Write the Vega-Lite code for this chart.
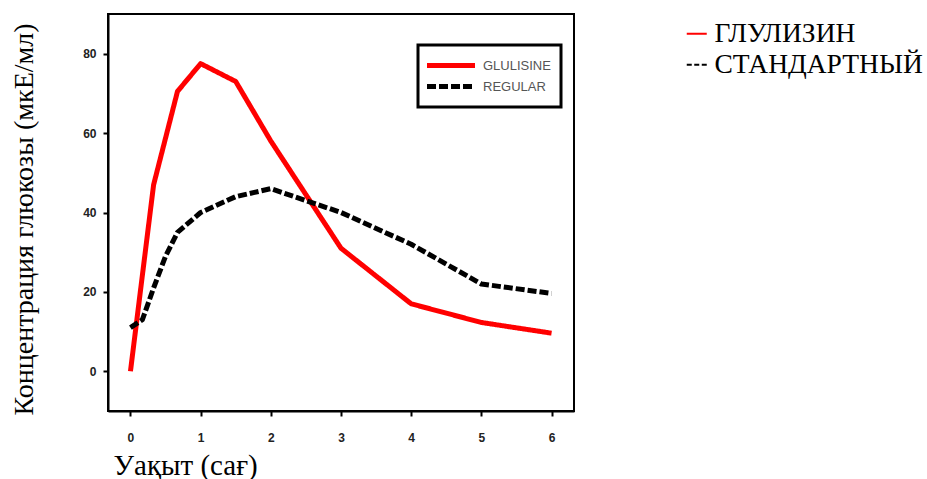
{
  "$schema": "https://vega.github.io/schema/vega-lite/v6.json",
  "autosize": "none",
  "width": 466,
  "height": 397,
  "padding": {"left": 108, "top": 14, "right": 353, "bottom": 68},
  "background": "white",
  "config": {
    "view": {"stroke": "black", "strokeWidth": 2},
    "axis": {
      "domainColor": "black", "domainWidth": 2, "tickColor": "black", "tickWidth": 2, "tickSize": 5,
      "labelFont": "Liberation Sans", "labelFontWeight": "bold", "labelFontSize": 12, "labelColor": "#222",
      "grid": false,
      "titleFont": "Liberation Serif", "titleFontWeight": "normal", "titleColor": "black"
    }
  },
  "data": {"values": [
    {"t": 0, "v": 0, "en": "GLULISINE", "ru": "ГЛУЛИЗИН"},
    {"t": 0.33, "v": 47, "en": "GLULISINE", "ru": "ГЛУЛИЗИН"},
    {"t": 0.67, "v": 70.5, "en": "GLULISINE", "ru": "ГЛУЛИЗИН"},
    {"t": 1, "v": 77.5, "en": "GLULISINE", "ru": "ГЛУЛИЗИН"},
    {"t": 1.5, "v": 73, "en": "GLULISINE", "ru": "ГЛУЛИЗИН"},
    {"t": 2, "v": 58, "en": "GLULISINE", "ru": "ГЛУЛИЗИН"},
    {"t": 3, "v": 31, "en": "GLULISINE", "ru": "ГЛУЛИЗИН"},
    {"t": 4, "v": 17, "en": "GLULISINE", "ru": "ГЛУЛИЗИН"},
    {"t": 5, "v": 12.3, "en": "GLULISINE", "ru": "ГЛУЛИЗИН"},
    {"t": 6, "v": 9.6, "en": "GLULISINE", "ru": "ГЛУЛИЗИН"},
    {"t": 0, "v": 11, "en": "REGULAR", "ru": "СТАНДАРТНЫЙ"},
    {"t": 0.17, "v": 13, "en": "REGULAR", "ru": "СТАНДАРТНЫЙ"},
    {"t": 0.33, "v": 21, "en": "REGULAR", "ru": "СТАНДАРТНЫЙ"},
    {"t": 0.5, "v": 29, "en": "REGULAR", "ru": "СТАНДАРТНЫЙ"},
    {"t": 0.67, "v": 35, "en": "REGULAR", "ru": "СТАНДАРТНЫЙ"},
    {"t": 1, "v": 40, "en": "REGULAR", "ru": "СТАНДАРТНЫЙ"},
    {"t": 1.5, "v": 44, "en": "REGULAR", "ru": "СТАНДАРТНЫЙ"},
    {"t": 2, "v": 46, "en": "REGULAR", "ru": "СТАНДАРТНЫЙ"},
    {"t": 3, "v": 40, "en": "REGULAR", "ru": "СТАНДАРТНЫЙ"},
    {"t": 4, "v": 32, "en": "REGULAR", "ru": "СТАНДАРТНЫЙ"},
    {"t": 5, "v": 22, "en": "REGULAR", "ru": "СТАНДАРТНЫЙ"},
    {"t": 6, "v": 19.6, "en": "REGULAR", "ru": "СТАНДАРТНЫЙ"}
  ]},
  "encoding": {
    "x": {"field": "t", "type": "quantitative",
      "scale": {"domain": [-0.32, 6.32], "nice": false, "zero": false},
      "axis": {"values": [0,1,2,3,4,5,6], "labelPadding": 16, "title": "Уақыт (сағ)", "titleFontSize": 29,
        "titleAlign": "left", "titleX": 5, "titleY": 63, "titleBaseline": "alphabetic"}},
    "y": {"field": "v", "type": "quantitative",
      "scale": {"domain": [-10, 90], "nice": false, "zero": false},
      "axis": {"values": [0,20,40,60,80], "labelPadding": 7, "title": "Концентрация глюкозы (мкЕ/мл)", "titleFontSize": 28,
        "titleAngle": 270, "titleX": -76, "titleY": 205, "titleAlign": "center", "titleBaseline": "alphabetic", "titleLimit": 0}}
  },
  "layer": [
    {
      "transform": [{"filter": "datum.t < -1"}],
      "mark": {"type": "line", "strokeWidth": 2},
      "encoding": {
        "color": {"field": "ru", "type": "nominal",
          "scale": {"domain": ["ГЛУЛИЗИН", "СТАНДАРТНЫЙ"], "range": ["#ff0000", "#000000"]},
          "legend": {"title": null, "orient": "none", "legendX": 575, "legendY": 6,
            "symbolType": "stroke", "symbolSize": 400, "symbolStrokeWidth": 2,
            "labelFont": "Liberation Serif", "labelFontSize": 27.5, "labelColor": "black", "labelOffset": 4,
            "labelLimit": 0, "rowPadding": 2}},
        "strokeDash": {"field": "ru", "type": "nominal",
          "scale": {"domain": ["ГЛУЛИЗИН", "СТАНДАРТНЫЙ"], "range": [[1, 0], [5, 2.5]]},
          "legend": {"title": null, "orient": "none", "legendX": 575, "legendY": 6,
            "symbolType": "stroke", "symbolSize": 400, "symbolStrokeWidth": 2,
            "labelFont": "Liberation Serif", "labelFontSize": 27.5, "labelColor": "black", "labelOffset": 4,
            "labelLimit": 0, "rowPadding": 2}}
      }
    },
    {
      "mark": {"type": "line", "strokeWidth": 5, "strokeCap": "butt", "strokeJoin": "round"},
      "encoding": {
        "color": {"field": "en", "type": "nominal",
          "scale": {"domain": ["GLULISINE", "REGULAR"], "range": ["#ff0000", "#000000"]},
          "legend": {"title": null, "orient": "none", "legendX": 310, "legendY": 31,
            "strokeColor": "black", "fillColor": "white", "padding": 10,
            "symbolType": "M-3,0H3", "symbolSize": 256, "symbolStrokeWidth": 5, "symbolOffset": 12.5,
            "labelFont": "Liberation Sans", "labelFontSize": 13, "labelColor": "#555", "labelOffset": 21.5,
            "rowPadding": 0,
            "encode": {"legend": {"update": {"strokeWidth": {"value": 3}}}}}},
        "strokeDash": {"field": "en", "type": "nominal",
          "scale": {"domain": ["GLULISINE", "REGULAR"], "range": [[1, 0], [9, 3]]},
          "legend": {"title": null, "orient": "none", "legendX": 310, "legendY": 31,
            "strokeColor": "black", "fillColor": "white", "padding": 10,
            "symbolType": "M-3,0H3", "symbolSize": 256, "symbolStrokeWidth": 5, "symbolOffset": 12.5,
            "labelFont": "Liberation Sans", "labelFontSize": 13, "labelColor": "#555", "labelOffset": 21.5,
            "rowPadding": 0,
            "encode": {"legend": {"update": {"strokeWidth": {"value": 3}}}}}}
      }
    }
  ],
  "resolve": {"scale": {"color": "independent", "strokeDash": "independent"}, "legend": {"color": "independent", "strokeDash": "independent"}}
}
